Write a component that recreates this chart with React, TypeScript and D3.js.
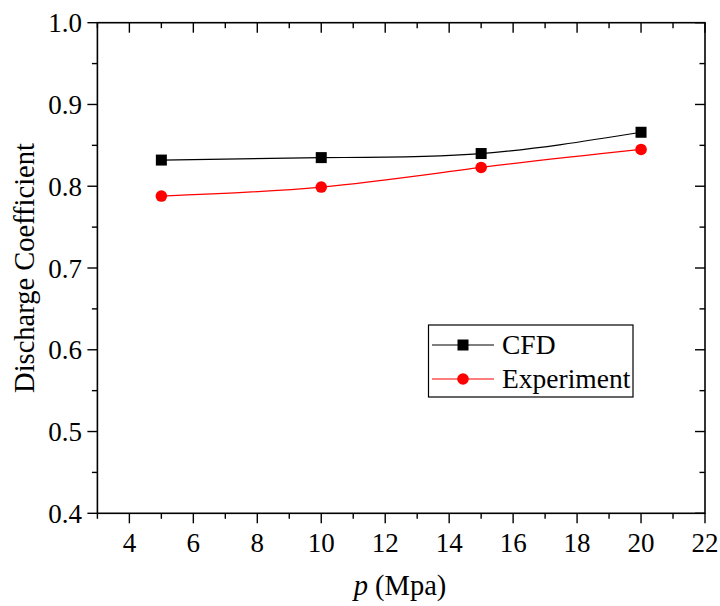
import React from 'react';
import * as d3 from 'd3';

const pressure = [5, 10, 15, 20];
const cfdValues = [0.832, 0.835, 0.840, 0.866];
const experimentValues = [0.788, 0.799, 0.823, 0.845];
const xTicks = [4, 6, 8, 10, 12, 14, 16, 18, 20, 22];
const yTicks = [0.4, 0.5, 0.6, 0.7, 0.8, 0.9, 1.0];

const W = 720;
const H = 606;
const FONT = '"Liberation Serif", "Times New Roman", serif';

const App = () => {
  const left = 97.4;
  const right = 705;
  const top = 22.7;
  const bottom = 513.3;

  const x = d3.scaleLinear().domain([3, 22]).range([left, right]);
  const y = d3.scaleLinear().domain([0.4, 1.0]).range([bottom, top]);

  const xMinor = d3.range(3, 22, 1).filter(v => v % 2 === 1);
  const yMinor = d3.range(0.45, 1.0, 0.1);

  const line = d3.line<number>()
    .x((_, i) => x(pressure[i]))
    .y(d => y(d))
    .curve(d3.curveNatural);

  const sq = 11;
  const legend = { x: 428.5, y: 325, w: 204.5, h: 72 };

  return (
    <svg width={W} height={H} style={{ position: 'absolute', left: 0, top: 0, background: '#fff' }}
      fontFamily={FONT}>
      {/* frame */}
      <rect x={left} y={top} width={right - left} height={bottom - top}
        fill="none" stroke="#000" strokeWidth={1.6} />

      {/* bottom + top ticks */}
      {xTicks.map(t => (
        <g key={'xt' + t}>
          <line x1={x(t)} x2={x(t)} y1={bottom} y2={bottom + 10} stroke="#000" strokeWidth={1.4} />
          <line x1={x(t)} x2={x(t)} y1={top} y2={top + 10} stroke="#000" strokeWidth={1.4} />
          <text x={x(t)} y={552} textAnchor="middle" fontSize={27}>{t}</text>
        </g>
      ))}
      {xMinor.map(t => (
        <g key={'xm' + t}>
          <line x1={x(t)} x2={x(t)} y1={bottom} y2={bottom + 5.5} stroke="#000" strokeWidth={1.4} />
          <line x1={x(t)} x2={x(t)} y1={top} y2={top + 5.5} stroke="#000" strokeWidth={1.4} />
        </g>
      ))}

      {/* left + right ticks */}
      {yTicks.map(t => (
        <g key={'yt' + t}>
          <line x1={left - 10} x2={left} y1={y(t)} y2={y(t)} stroke="#000" strokeWidth={1.4} />
          <line x1={right - 10} x2={right} y1={y(t)} y2={y(t)} stroke="#000" strokeWidth={1.4} />
          <text x={82} y={y(t) + 9.5} textAnchor="end" fontSize={27}>{t.toFixed(1)}</text>
        </g>
      ))}
      {yMinor.map(t => (
        <g key={'ym' + t.toFixed(2)}>
          <line x1={left - 5.5} x2={left} y1={y(t)} y2={y(t)} stroke="#000" strokeWidth={1.4} />
          <line x1={right - 5.5} x2={right} y1={y(t)} y2={y(t)} stroke="#000" strokeWidth={1.4} />
        </g>
      ))}

      {/* axis titles */}
      <text x={400} y={595} textAnchor="middle" fontSize={28.5}>
        <tspan fontStyle="italic">p</tspan> (Mpa)
      </text>
      <text transform={`translate(34,${268}) rotate(-90)`} textAnchor="middle" fontSize={28.5}>
        Discharge Coefficient
      </text>

      {/* series */}
      <path d={line(cfdValues) || ''} fill="none" stroke="#000" strokeWidth={1.2} />
      <path d={line(experimentValues) || ''} fill="none" stroke="#ff0000" strokeWidth={1.2} />
      {cfdValues.map((v, i) => (
        <rect key={'c' + i} x={x(pressure[i]) - sq / 2} y={y(v) - sq / 2} width={sq} height={sq} fill="#000" />
      ))}
      {experimentValues.map((v, i) => (
        <circle key={'e' + i} cx={x(pressure[i])} cy={y(v)} r={5.8} fill="#ff0000" />
      ))}

      {/* legend */}
      <rect x={legend.x} y={legend.y} width={legend.w} height={legend.h} fill="#fff" stroke="#000" strokeWidth={1.2} />
      <line x1={432} x2={494} y1={345} y2={345} stroke="#000" strokeWidth={1.2} />
      <rect x={463 - sq / 2} y={345 - sq / 2} width={sq} height={sq} fill="#000" />
      <text x={502} y={354} fontSize={27.5}>CFD</text>
      <line x1={432} x2={494} y1={379} y2={379} stroke="#ff0000" strokeWidth={1.2} />
      <circle cx={463} cy={379} r={5.8} fill="#ff0000" />
      <text x={502} y={388} fontSize={27.5}>Experiment</text>
    </svg>
  );
};

export default App;
